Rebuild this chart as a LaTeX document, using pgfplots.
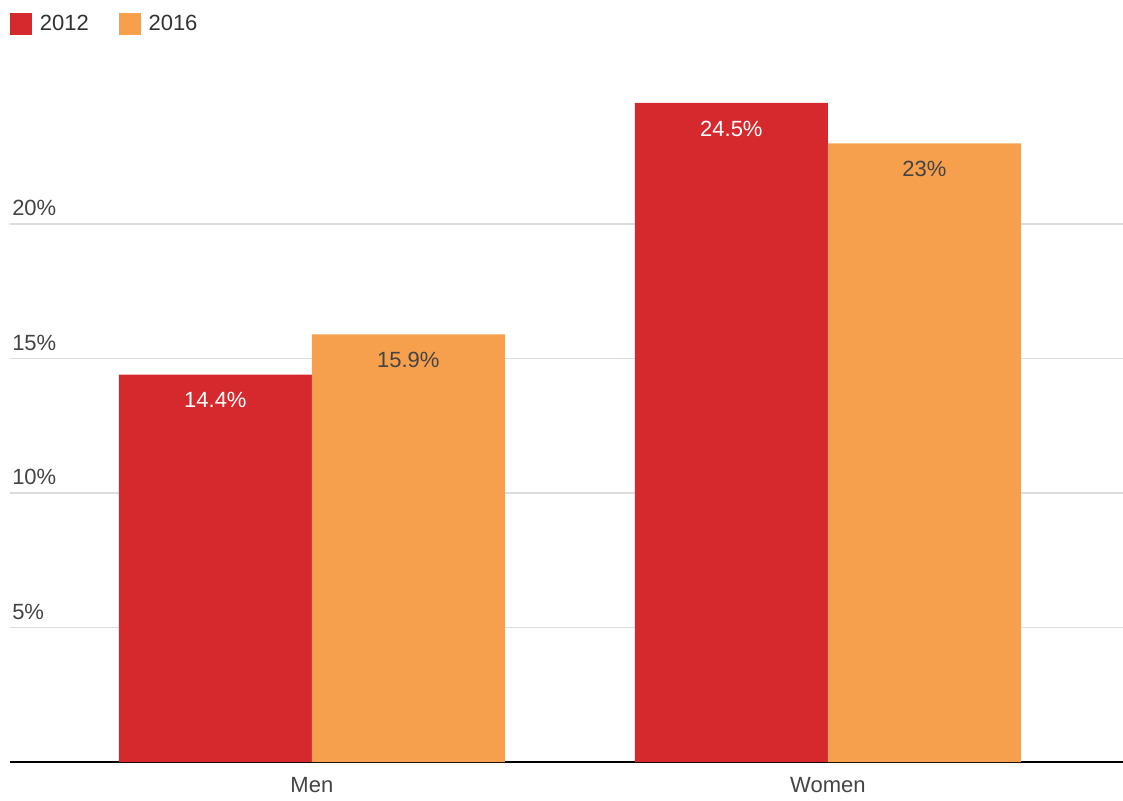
\documentclass[border=0pt]{standalone}
\usepackage{pgfplots}
\pgfplotsset{compat=1.18}
\usepackage{fontspec}
\setmainfont{Liberation Sans}
\definecolor{cred}{RGB}{214,41,45}
\definecolor{corange}{RGB}{246,160,77}
\definecolor{txt}{RGB}{68,68,68}
\definecolor{gridc}{RGB}{221,221,221}
\newcommand{\lfont}{\fontsize{16.5}{19}\selectfont}
\begin{document}
\begin{tikzpicture}
\useasboundingbox (0,0) rectangle (842.25pt,600pt);
\begin{axis}[
  at={(7.5pt,28.5pt)}, anchor=south west,
  scale only axis, width=834.75pt, height=541.5pt,
  xmin=-0.585, xmax=1.572, ymin=0, ymax=26.84,
  axis lines*=left,
  x axis line style={-, black, line width=1.5pt},
  y axis line style={draw=none},
  major tick length=0pt,
  ytick={5,10,15,20},
  yticklabel={\pgfmathprintnumber{\tick}\%},
  yticklabel style={anchor=south west, inner sep=0pt, xshift=1.5pt, yshift=6pt},
  ymajorgrids, grid style={gridc, line width=0.9pt},
  xtick={0,1}, xticklabels={Men,Women},
  xticklabel style={yshift=-8pt},
  tick label style={font=\lfont, text=txt},
  /pgf/number format/assume math mode=true,
  ybar, bar width=0.374,
  nodes near coords={\pgfmathprintnumber[assume math mode=true]{\pgfplotspointmeta}\%},
  every node near coord/.append style={anchor=north, yshift=-10pt, font=\lfont},
  legend style={at={(0,1.0388)}, anchor=north west, draw=none, fill=none,
    legend columns=2, inner sep=0pt, font=\lfont, text=black!80,
    /tikz/every odd column/.append style={column sep=3.75pt},
    /tikz/every even column/.append style={column sep=20.5pt}},
  clip=false,
]
\addplot[fill=cred, draw=none, bar shift=-0.187,
  every node near coord/.append style={text=white},
  legend image code/.code={\fill[cred] (0pt,-8.25pt) rectangle (16.5pt,8.25pt);}]
  coordinates {(0,14.4) (1,24.5)};
\addlegendentry{2012}
\addplot[fill=corange, draw=none, bar shift=0.187,
  every node near coord/.append style={text=txt},
  legend image code/.code={\fill[corange] (0pt,-8.25pt) rectangle (16.5pt,8.25pt);}]
  coordinates {(0,15.9) (1,23)};
\addlegendentry{2016}
\end{axis}
\end{tikzpicture}
\end{document}
